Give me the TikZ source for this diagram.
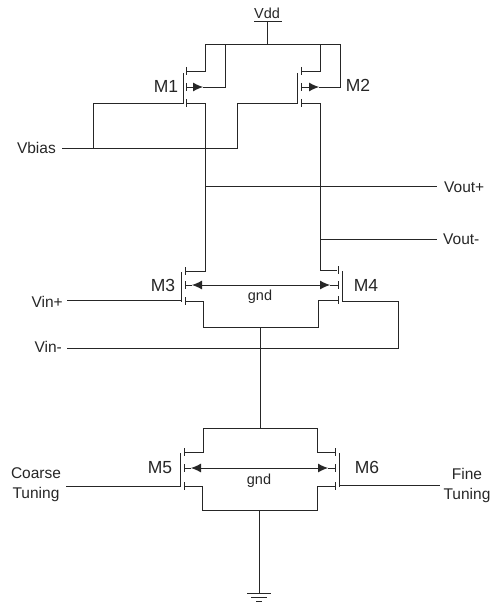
\documentclass[tikz,border=0pt]{standalone}
\usepackage{fontspec}
\setmainfont{Liberation Sans}
\usetikzlibrary{arrows.meta}
\tikzset{
  wire/.style={draw=black!85,line width=0.9pt,line join=miter},
  thin wire/.style={draw=black!85,line width=0.8pt},
  lab/.style={inner sep=0pt,font=\fontsize{15.5}{20}\selectfont,text=black!85},
  small lab/.style={inner sep=0pt,font=\fontsize{14.5}{16}\selectfont,text=black!85},
  mos/.style={inner sep=0pt,font=\fontsize{17.5}{18}\selectfont,text=black!85},
  bulk/.style={wire,-{Latex[length=10pt,width=9pt]}},
  bulkboth/.style={wire,{Latex[length=10pt,width=9pt]}-{Latex[length=10pt,width=9pt]}},
}
\begin{document}
\begin{tikzpicture}[x=1pt,y=-1pt]
\useasboundingbox (0,0) rectangle (491,604);
% labels
\node[small lab] (vdd) at (267,13) {Vdd};
\node[mos] (m1) at (166,86) {M1};
\node[mos] (m2) at (358,85) {M2};
\node[mos] (m3) at (163,285) {M3};
\node[mos] (m4) at (366,285) {M4};
\node[mos] (m5) at (160,468) {M5};
\node[mos] (m6) at (367,467) {M6};
\node[small lab] (gnd1) at (260,297) {gnd};
\node[small lab] (gnd2) at (259,481) {gnd};
\node[lab,anchor=east] (vbias) at (56,148) {Vbias};
\node[lab,anchor=west] (voutp) at (444,187) {Vout+};
\node[lab,anchor=west] (voutm) at (443,239) {Vout-};
\node[lab,anchor=east] (vinp) at (63,302) {Vin+};
\node[lab,anchor=east] (vinm) at (62,347) {Vin-};
\node[lab,align=center] (coarse) at (36,485) {Coarse\\Tuning};
\node[lab,align=center] (fine) at (467,485) {Fine\\Tuning};
% Vdd
\coordinate (vddbar) at (267,21);
\coordinate (railm) at (267,44.5);
\draw[wire] (254,21) -- (282,21);
\draw[wire] (vddbar) -- (railm);
\draw[wire] (186,71) -- (205,71) -- (205,44.5) -- (340,44.5) -- (340,87) -- (319,87);
% M1
\draw[wire] (183,73) -- (183,104);
\draw[wire] (186,67) -- (186,75);
\draw[wire] (186,83) -- (186,91);
\draw[wire] (186,99) -- (186,107);
\draw[bulk] (186,87) -- (203,87);
\draw[wire] (203,87) -- (225,87) -- (225,44.5);
\draw[wire] (186,103) -- (205,103) -- (205,271) -- (185,271);
% M2
\draw[wire] (297,73) -- (297,104);
\draw[wire] (301,67) -- (301,75);
\draw[wire] (301,83) -- (301,91);
\draw[wire] (301,99) -- (301,107);
\draw[wire] (301,71) -- (320,71) -- (320,44.5);
\draw[bulk] (301,87) -- (319,87);
\draw[wire] (301,103) -- (320,103) -- (320,270) -- (337,270);
% gate bias
\draw[thin wire] (62,148.5) -- (237,148.5) -- (237,103) -- (297,103);
\draw[wire] (93,148.5) -- (93,103) -- (183,103);
% outputs
\draw[thin wire] (205,186.5) -- (437,186.5);
\draw[thin wire] (320,239) -- (437,239);
% M3
\draw[wire] (181,272) -- (181,302);
\draw[wire] (185,267) -- (185,275);
\draw[wire] (185,281) -- (185,289);
\draw[wire] (185,297) -- (185,305);
% M4
\draw[wire] (342,271) -- (342,302);
\draw[wire] (338,266) -- (338,274);
\draw[wire] (338,281) -- (338,289);
\draw[wire] (338,296) -- (338,304);
\draw[wire] (185,285) -- (192,285);
\draw[wire] (330,285) -- (338,285);
\draw[bulkboth] (192,285) -- (330,285);
\draw[wire] (185,301) -- (203,301) -- (203,327) -- (318,327) -- (318,300) -- (338,300);
\draw[thin wire] (67,300.5) -- (181,300.5);
\draw[thin wire] (342,301) -- (398,301) -- (398,348) -- (67,348);
\draw[wire] (260,327) -- (260,428);
% M5 M6
\draw[wire] (184,452) -- (203,452) -- (203,428.5) -- (317,428.5) -- (317,452) -- (335,452);
\draw[wire] (180,453) -- (180,487);
\draw[wire] (184,448) -- (184,456);
\draw[wire] (184,464) -- (184,472);
\draw[wire] (184,482) -- (184,490);
\draw[wire] (339,453) -- (339,487);
\draw[wire] (335,448) -- (335,456);
\draw[wire] (335,464) -- (335,472);
\draw[wire] (335,482) -- (335,490);
\draw[wire] (184,468) -- (191,468);
\draw[wire] (328,468) -- (335,468);
\draw[bulkboth] (191,468) -- (328,468);
\draw[wire] (184,486) -- (202,486) -- (202,510) -- (317,510) -- (317,486) -- (335,486);
\draw[thin wire] (66,486) -- (180,486);
\draw[thin wire] (339,485.5) -- (440,485.5);
\draw[wire] (259,510) -- (259,593);
% ground
\draw[thin wire] (247,593) -- (271,593);
\draw[thin wire] (251,597) -- (267,597);
\draw[thin wire] (256,601) -- (262,601);
\end{tikzpicture}
\end{document}
